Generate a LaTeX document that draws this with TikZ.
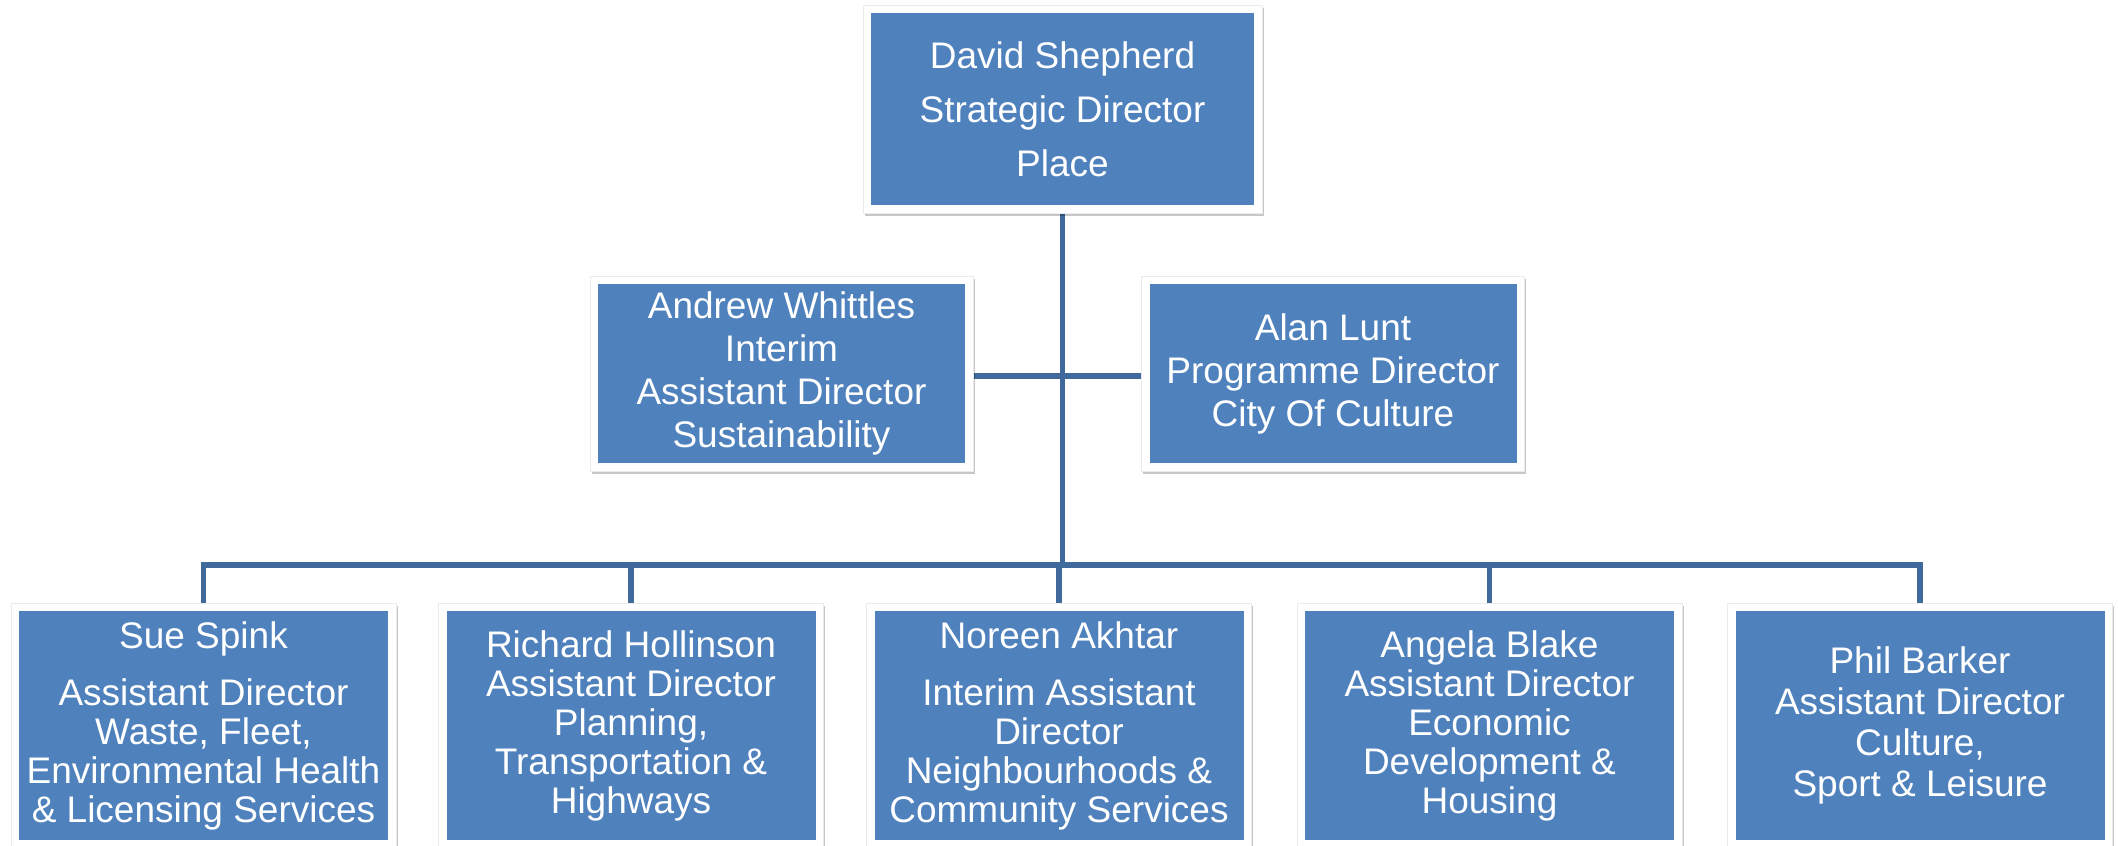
\documentclass[tikz,border=0pt]{standalone}
\usepackage{fontspec}
\setmainfont{Liberation Sans}
\usetikzlibrary{shadows,backgrounds}
\definecolor{boxblue}{HTML}{4F81BD}
\definecolor{linkblue}{HTML}{3F6A9B}
\begin{document}
\begin{tikzpicture}[x=1pt,y=-1pt,
  box/.style={rectangle, fill=white, draw=black!8, line width=1pt, text=white,
    align=center, inner sep=0pt,
    drop shadow={shadow xshift=1.5pt, shadow yshift=-2.5pt, opacity=0.22, fill=black},
    path picture={\fill[boxblue] ([shift={(8pt,8pt)}]path picture bounding box.south west)
      rectangle ([shift={(-8pt,-8pt)}]path picture bounding box.north east);}},
  topbox/.style={box, minimum width=399pt, minimum height=208pt, font=\fontsize{37}{54}\selectfont},
  midbox/.style={box, minimum width=383pt, minimum height=195pt, font=\fontsize{37}{43}\selectfont},
  lowbox/.style={box, minimum width=385pt, minimum height=245pt, font=\fontsize{37}{39}\selectfont},
  link/.style={draw=linkblue, line width=5.5pt}
]
\useasboundingbox (0,0) rectangle (2118,846);

\node[topbox] (top) at (1062.5,109) {David Shepherd\\Strategic Director\\Place};

\node[midbox] (andrew) at (781.5,373.5) {Andrew Whittles\\Interim\\Assistant Director\\Sustainability};
\node[midbox] (alan) at (1333,373.5) {Alan Lunt\\Programme Director\\City Of Culture};

\node[lowbox] (sue) at (203.5,725.5) {Sue Spink\\[18pt]Assistant Director\\Waste, Fleet,\\Environmental Health\\\& Licensing Services};
\node[lowbox] (richard) at (631,725.5) {Richard Hollinson\\Assistant Director\\Planning,\\Transportation \&\\Highways};
\node[lowbox] (noreen) at (1059,725.5) {Noreen Akhtar\\[18pt]Interim Assistant\\Director\\Neighbourhoods \&\\Community Services};
\node[lowbox] (angela) at (1489.5,725.5) {Angela Blake\\Assistant Director\\Economic\\Development \&\\Housing};
\node[lowbox, font=\fontsize{37}{41}\selectfont] (phil) at (1920,725.5) {Phil Barker\\Assistant Director\\Culture,\\Sport \& Leisure};

\coordinate (bus) at (0,565);

\begin{pgfonlayer}{background}
\fill[white] (0,0) rectangle (2118,846);
\draw[link] (top.south) -- (top.south |- bus);
\draw[link] ([yshift=-2.5pt]andrew.east) -- ([yshift=-2.5pt]alan.west);
\draw[link] (sue.north) -- (sue.north |- bus) -- (phil.north |- bus) -- (phil.north);
\foreach \n in {richard,noreen,angela}
  \draw[link] (\n.north) -- (\n.north |- bus);
\end{pgfonlayer}
\end{tikzpicture}
\end{document}
